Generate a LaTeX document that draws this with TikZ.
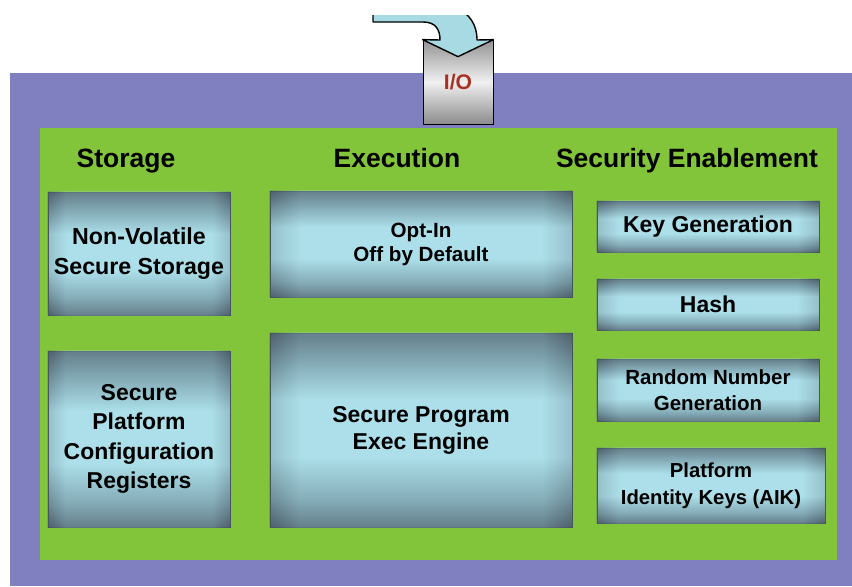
\documentclass[tikz,border=0pt]{standalone}
\usepackage{fontspec}
\setmainfont{Liberation Sans}
\usetikzlibrary{fit,calc}

\definecolor{panelviolet}{RGB}{128,127,192}
\definecolor{panelgreen}{RGB}{130,197,58}
\definecolor{slate}{RGB}{78,96,108}
\definecolor{ice}{RGB}{172,223,233}
\definecolor{haze}{RGB}{120,156,168}
\definecolor{iored}{RGB}{170,48,34}
\definecolor{arrowblue}{RGB}{168,218,228}

% dark rim at top and bottom, light band in the middle
\pgfdeclareverticalshading{unitshade}{100bp}{color(0bp)=(slate); color(25bp)=(slate);
  color(32bp)=(haze); color(43bp)=(ice); color(58bp)=(ice); color(67bp)=(haze);
  color(75bp)=(slate); color(100bp)=(slate)}
% darker left and right edges
\pgfdeclarehorizontalshading{unitsides}{100bp}{color(0bp)=(slate); color(25bp)=(slate);
  color(30bp)=(ice); color(70bp)=(ice); color(75bp)=(slate); color(100bp)=(slate)}

\tikzset{
  unit/.style={draw=slate!85!black, line width=0.5pt, inner sep=0pt, shading=unitshade},
  unitrim/.style={inner sep=0pt, shading=unitsides, opacity=0.25},
  bigtext/.style={align=center, inner sep=0pt, font=\bfseries\fontsize{19.6}{25}\selectfont},
  smalltext/.style={align=center, inner sep=0pt, font=\bfseries\fontsize{17.5}{22.5}\selectfont},
  heading/.style={anchor=base, font=\bfseries\fontsize{22.6}{26}\selectfont},
  iobox/.style={draw=black, line width=0.6pt, inner sep=0pt,
    top color=black!42, bottom color=black!45, middle color=black!6},
  arrowband/.style={draw=black, line width=1.2pt, fill=arrowblue, line join=round}
}

\begin{document}
\begin{tikzpicture}[x=0.03cm, y=-0.03cm]
\useasboundingbox (0,0) rectangle (852,586);

% panels
\fill[panelviolet] (10,73) rectangle (852,586);
\fill[panelgreen] (40,128) rectangle (837,560);

% column titles
\node[heading] (storage) at (126,167) {Storage};
\node[heading] (execution) at (397,167) {Execution};
\node[heading] (security) at (687,167) {Security Enablement};

% boxes: storage, execution, security enablement
\node[unit, fit={(48,192) (230,315)}] (nvs) {};
\node[unit, fit={(48,351) (230,527)}] (pcr) {};
\node[unit, fit={(270,191) (572,297)}] (optin) {};
\node[unit, fit={(270,333) (572,527)}] (engine) {};
\node[unit, fit={(597,201) (819,252)}] (keygen) {};
\node[unit, fit={(597,279) (819,330)}] (hash) {};
\node[unit, fit={(597,359) (819,421)}] (rng) {};
\node[unit, fit={(597,448) (825,523)}] (aik) {};

% shaded side edges over every box
\foreach \b in {nvs,pcr,optin,engine,keygen,hash,rng,aik}
  \node[unitrim, fit=(\b)] {};

% box texts
\node[bigtext, font=\bfseries\fontsize{19.8}{25.6}\selectfont] (nvs-text) at (nvs) {Non-Volatile\\Secure Storage};
\node[bigtext] (pcr-text) at (pcr) {Secure\\Platform\\Configuration\\Registers};
\node[bigtext, font=\bfseries\fontsize{17.6}{20.5}\selectfont] (optin-text) at (optin) {Opt-In\\Off by Default};
\node[bigtext, font=\bfseries\fontsize{19.6}{23}\selectfont] (engine-text) at (engine) {Secure Program\\Exec Engine};
\node[bigtext] (keygen-text) at (keygen) {Key Generation};
\node[bigtext] (hash-text) at (hash) {Hash};
\node[smalltext] (rng-text) at (rng) {Random Number\\Generation};
\node[smalltext, font=\bfseries\fontsize{17.3}{23}\selectfont] (aik-text) at (aik) {Platform\\Identity Keys (AIK)};

% input port
\node[iobox, fit={(423,40) (493,124)}] (io) {};
\node[text=iored, font=\bfseries\fontsize{18}{20}\selectfont] (io-text) at (io) {I/O};

% bent arrow into the port
\begin{scope}
\clip (0,15) rectangle (852,70);
\draw[arrowband] (373,22) -- (423,22) .. controls (436,22) and (440,30) .. (440,40)
  -- (io.north west) -- ($(io.north)+(0,17)$) -- (io.north east)
  -- (477,40) .. controls (477,8) and (445,0) .. (415,0) -- (373,0) -- cycle;
\end{scope}
\end{tikzpicture}
\end{document}
